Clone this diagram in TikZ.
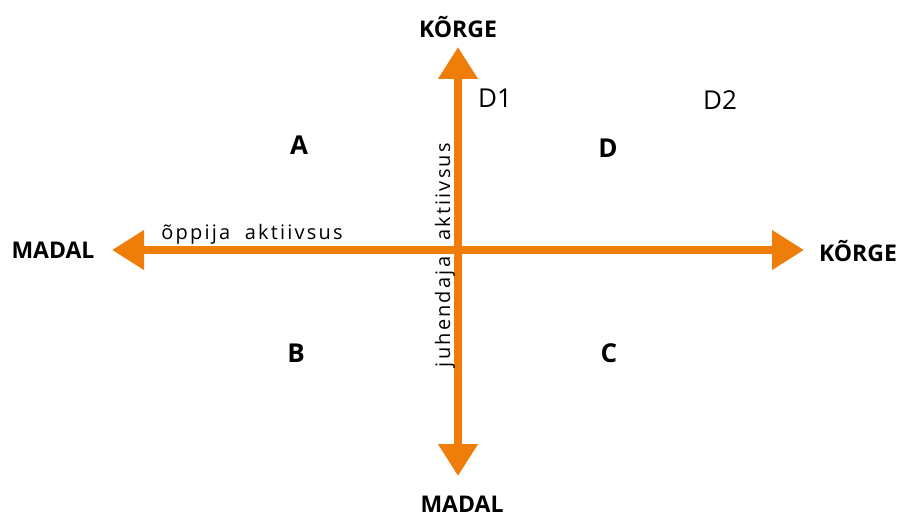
\documentclass[tikz,border=0pt]{standalone}
\usepackage{fontspec}
\setmainfont{Open Sans}
\newfontfamily\spaced[LetterSpace=11]{Open Sans}
\usetikzlibrary{arrows.meta}
\definecolor{axisor}{RGB}{238,125,10}
\begin{document}
\begin{tikzpicture}[x=1pt,y=-1pt,
  axis/.style={draw=axisor,line width=7.5pt,-{Triangle[width=38pt,length=32pt]}},
  endlbl/.style={font=\fontsize{23}{26}\selectfont\bfseries,inner sep=0pt},
  quad/.style={font=\fontsize{26}{29}\selectfont\bfseries,inner sep=0pt},
  dlbl/.style={font=\fontsize{26}{29}\selectfont,inner sep=0pt},
  axlbl/.style={font=\fontsize{20}{23}\selectfont\spaced,inner sep=0pt}]
\useasboundingbox (0,0) rectangle (903,516);
\coordinate (O) at (458,250);
\coordinate (L) at (112,250);
\coordinate (R) at (804,250);
\coordinate (T) at (458,47);
\coordinate (Bt) at (458,476);
\draw[axis] (O) -- (L);
\draw[axis] (O) -- (R);
\draw[axis] (O) -- (T);
\draw[axis] (O) -- (Bt);
\node[endlbl] (kt) at (458,27) {KÕRGE};
\node[endlbl] (kr) at (858,251) {KÕRGE};
\node[endlbl] (ml) at (53,250) {MADAL};
\node[endlbl,anchor=base] (mb) at (462,512) {MADAL};
\node[quad] (a) at (299,145) {A};
\node[quad] (b) at (296,353) {B};
\node[quad] (c) at (609,353) {C};
\node[quad] (d) at (608,148) {D};
\node[dlbl] (d1) at (495,98) {D1};
\node[dlbl] (d2) at (720,100) {D2};
\node[axlbl,anchor=base] (op) at (252,240) {õppija\ \ aktiivsus};
\node[axlbl,rotate=90,anchor=base] (ak) at (450,192) {aktiivsus};
\node[axlbl,rotate=90,anchor=base] (ju) at (450,312) {juhendaja};
\end{tikzpicture}
\end{document}
